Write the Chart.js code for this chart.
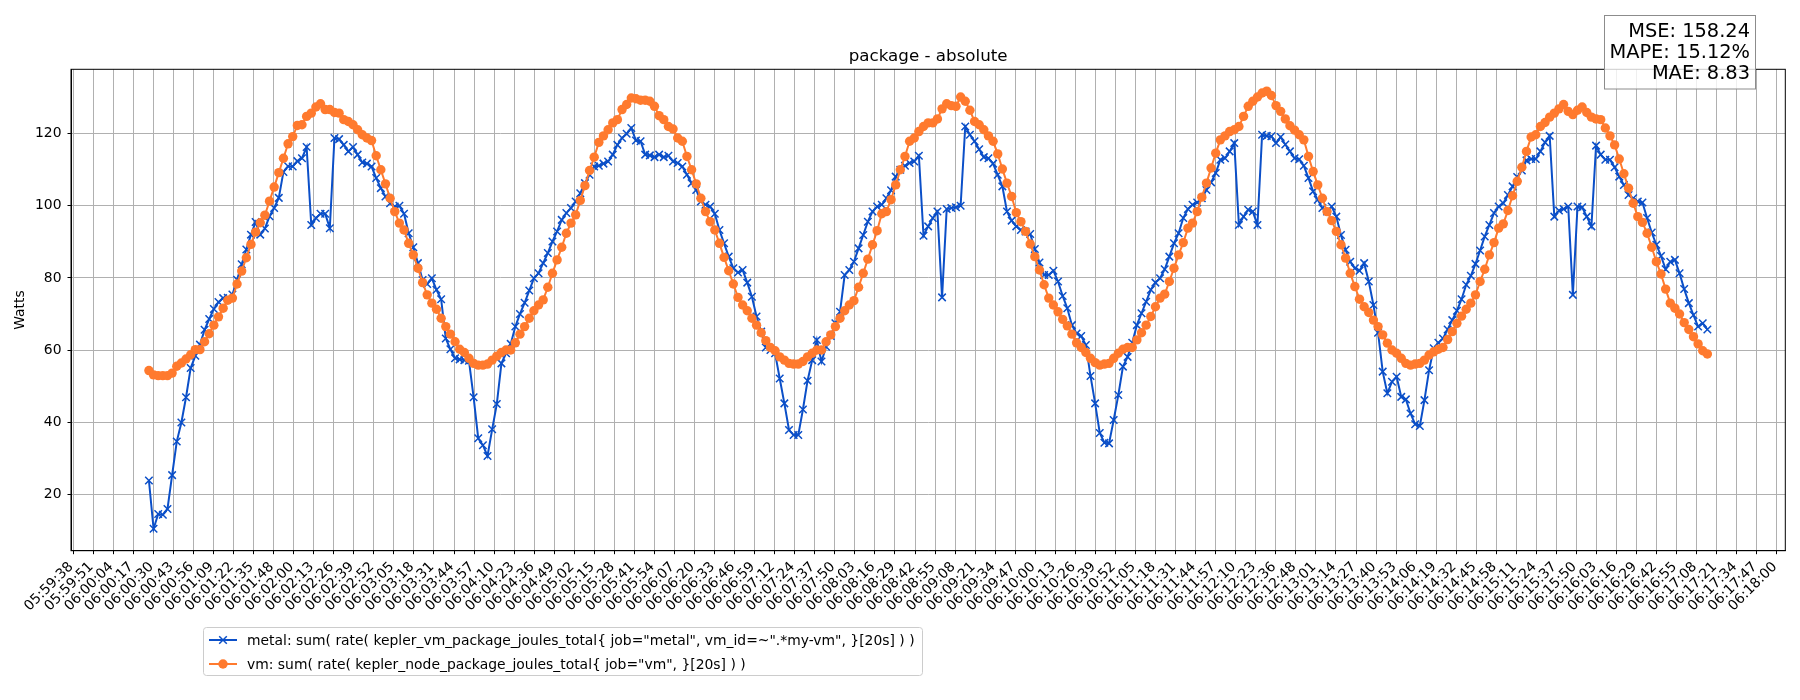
<!DOCTYPE html>
<html>
<head>
<meta charset="utf-8">
<script src="https://cdn.jsdelivr.net/npm/chart.js@4/dist/chart.umd.min.js"></script>
<style>
html, body { margin: 0; padding: 0; background: #fff; }
canvas { display: block; }
</style>
</head>
<body>
<canvas id="chart" width="1800" height="700"></canvas>
<script>
const tickLabels = [
    '05:59:38', '05:59:51', '06:00:04', '06:00:17', '06:00:30', '06:00:43', '06:00:56', '06:01:09', '06:01:22', '06:01:35',
    '06:01:48', '06:02:00', '06:02:13', '06:02:26', '06:02:39', '06:02:52', '06:03:05', '06:03:18', '06:03:31', '06:03:44',
    '06:03:57', '06:04:10', '06:04:23', '06:04:36', '06:04:49', '06:05:02', '06:05:15', '06:05:28', '06:05:41', '06:05:54',
    '06:06:07', '06:06:20', '06:06:33', '06:06:46', '06:06:59', '06:07:12', '06:07:24', '06:07:37', '06:07:50', '06:08:03',
    '06:08:16', '06:08:29', '06:08:42', '06:08:55', '06:09:08', '06:09:21', '06:09:34', '06:09:47', '06:10:00', '06:10:13',
    '06:10:26', '06:10:39', '06:10:52', '06:11:05', '06:11:18', '06:11:31', '06:11:44', '06:11:57', '06:12:10', '06:12:23',
    '06:12:36', '06:12:48', '06:13:01', '06:13:14', '06:13:27', '06:13:40', '06:13:53', '06:14:06', '06:14:19', '06:14:32',
    '06:14:45', '06:14:58', '06:15:11', '06:15:24', '06:15:37', '06:15:50', '06:16:03', '06:16:16', '06:16:29', '06:16:42',
    '06:16:55', '06:17:08', '06:17:21', '06:17:34', '06:17:47', '06:18:00'
];
const yTicks = [20, 40, 60, 80, 100, 120];

// samples: one every 3 s from the first timestamp
const sampleStart = '06:00:27';
const sampleStep = 3;

const metalValues = [
    23.8, 10.4, 14.5, 14.3, 15.9, 25.3, 34.6, 39.9, 46.9, 55.0,
    58.4, 61.5, 65.6, 68.6, 71.4, 73.3, 74.4, 74.5, 75.4, 79.5,
    83.8, 87.9, 92.0, 95.5, 92.0, 93.7, 97.1, 99.4, 102.2, 109.4,
    111.0, 110.9, 112.4, 113.2, 116.3, 94.7, 96.6, 97.8, 97.8, 93.8,
    118.8, 118.5, 116.9, 115.1, 116.3, 114.2, 112.0, 111.7, 110.9, 107.7,
    104.9, 102.6, 100.7, 99.8, 100.0, 97.8, 92.4, 88.5, 84.1, 79.4,
    78.3, 79.9, 76.7, 74.1, 63.2, 60.2, 57.7, 57.4, 57.2, 57.0,
    46.9, 35.5, 33.6, 30.6, 38.0, 45.0, 56.3, 59.1, 61.7, 66.5,
    70.0, 73.1, 76.5, 79.9, 81.3, 84.1, 86.9, 90.1, 92.9, 96.1,
    98.0, 99.4, 101.2, 103.5, 106.3, 108.6, 110.9, 111.1, 111.7, 112.3,
    114.2, 116.9, 118.8, 120.0, 121.6, 118.1, 117.9, 114.2, 114.0, 113.5,
    114.2, 113.5, 113.9, 112.3, 111.9, 110.9, 108.6, 106.3, 104.4, 101.2,
    100.3, 99.8, 97.8, 93.3, 89.6, 85.9, 82.7, 81.5, 82.2, 78.7,
    74.8, 69.3, 65.1, 60.7, 60.0, 59.1, 52.1, 45.2, 37.8, 36.4,
    36.4, 43.5, 51.5, 57.2, 62.8, 56.8, 60.9, 63.9, 67.4, 70.6,
    80.8, 82.2, 84.5, 88.2, 91.9, 95.6, 98.4, 99.8, 100.3, 102.1,
    104.3, 108.1, 110.0, 111.1, 111.9, 112.3, 113.9, 91.7, 94.3, 96.6,
    98.4, 74.6, 99.1, 99.4, 99.6, 100.0, 122.0, 119.7, 117.9, 115.7,
    113.5, 113.2, 111.7, 108.6, 105.4, 98.4, 95.9, 94.3, 93.3, 92.9,
    92.2, 88.0, 84.3, 80.8, 80.8, 82.0, 79.0, 75.0, 71.6, 66.9,
    64.6, 63.9, 61.4, 52.8, 45.2, 37.0, 34.3, 34.1, 40.6, 47.5,
    55.4, 58.1, 62.0, 66.9, 70.2, 73.4, 76.7, 78.7, 79.9, 82.4,
    85.9, 89.6, 92.4, 96.6, 99.1, 100.3, 100.9, 102.1, 104.4, 106.5,
    109.1, 112.8, 113.2, 115.1, 117.4, 94.7, 97.0, 98.9, 98.4, 94.7,
    119.7, 119.4, 119.3, 117.4, 119.1, 117.0, 115.1, 113.2, 112.9, 111.1,
    107.7, 104.0, 101.7, 99.4, 98.4, 99.8, 97.0, 91.9, 87.8, 84.5,
    82.7, 82.0, 84.1, 79.0, 72.5, 64.8, 54.0, 48.0, 51.2, 52.6,
    47.0, 46.3, 42.4, 39.4, 38.9, 46.1, 54.4, 60.5, 62.0, 63.2,
    65.7, 68.3, 70.9, 74.1, 78.1, 80.6, 83.9, 87.6, 91.5, 94.7,
    98.0, 99.8, 100.7, 103.0, 105.4, 108.0, 109.8, 112.6, 113.0, 113.0,
    115.1, 117.6, 119.4, 97.0, 98.7, 99.1, 99.8, 75.3, 99.8, 99.6,
    97.0, 94.3, 116.7, 114.2, 112.8, 112.8, 110.7, 108.1, 105.8, 103.0,
    102.1, 101.2, 100.9, 96.6, 92.6, 89.2, 86.1, 82.4, 84.5, 85.0,
    81.3, 76.9, 73.0, 69.7, 66.5, 67.4, 65.7
];

const vmValues = [
    54.3, 53.1, 52.9, 52.9, 52.9, 53.6, 55.5, 56.4, 57.5, 58.7,
    60.1, 60.1, 62.3, 64.5, 66.9, 69.2, 71.6, 73.8, 74.4, 78.3,
    81.9, 85.6, 89.3, 92.7, 95.3, 97.4, 101.3, 105.2, 109.2, 113.2,
    117.2, 119.2, 122.3, 122.5, 124.8, 125.7, 127.4, 128.3, 126.7, 126.7,
    125.9, 125.7, 123.9, 123.4, 122.5, 121.1, 119.7, 118.8, 118.1, 113.9,
    110.0, 106.1, 102.1, 98.4, 95.2, 93.3, 89.6, 86.4, 82.7, 78.7,
    75.3, 73.0, 71.3, 68.8, 66.5, 64.4, 62.3, 60.2, 59.3, 57.7,
    56.3, 55.8, 55.8, 56.1, 57.2, 58.3, 59.3, 60.0, 60.0, 62.0,
    64.4, 66.5, 68.8, 70.9, 72.5, 73.9, 77.4, 81.3, 85.0, 88.5,
    92.4, 95.2, 97.5, 101.5, 105.6, 109.8, 113.5, 117.6, 119.4, 121.1,
    123.0, 123.9, 126.7, 128.1, 129.9, 129.7, 129.3, 129.3, 129.0, 127.6,
    125.0, 123.9, 122.0, 121.3, 118.8, 117.9, 113.7, 110.0, 106.1, 102.1,
    98.4, 95.6, 93.3, 89.6, 85.7, 82.0, 78.3, 74.6, 72.5, 70.9,
    68.8, 66.9, 64.8, 62.6, 60.7, 59.8, 58.1, 57.2, 56.3, 56.1,
    56.1, 56.8, 58.1, 59.1, 60.0, 60.0, 62.3, 64.2, 66.5, 68.8,
    70.9, 72.5, 73.7, 77.4, 81.3, 85.2, 89.2, 93.1, 97.8, 98.4,
    101.7, 105.8, 110.0, 113.7, 117.9, 118.8, 120.6, 122.0, 123.0, 123.0,
    124.1, 126.9, 128.3, 127.8, 127.6, 130.2, 129.0, 126.5, 123.4, 122.5,
    121.1, 119.4, 117.9, 114.4, 110.2, 106.3, 102.6, 98.1, 95.6, 92.9,
    89.4, 85.9, 82.2, 78.1, 74.4, 72.5, 70.6, 68.5, 66.7, 64.4,
    62.0, 60.7, 59.3, 57.7, 56.5, 55.8, 56.1, 56.3, 57.7, 59.1,
    60.2, 60.7, 60.7, 62.8, 64.8, 66.9, 69.3, 72.0, 74.4, 75.5,
    79.0, 82.7, 86.4, 89.8, 93.8, 95.2, 98.4, 102.4, 106.3, 110.5,
    114.6, 118.3, 119.4, 120.6, 121.1, 122.0, 124.8, 127.6, 129.0, 130.2,
    131.3, 131.8, 130.6, 127.8, 126.2, 124.1, 122.2, 121.0, 119.7, 118.3,
    113.7, 109.5, 105.8, 102.1, 98.4, 95.9, 92.9, 89.2, 85.5, 81.3,
    77.6, 74.1, 72.0, 70.4, 68.3, 66.5, 64.2, 61.9, 60.0, 59.1,
    57.7, 56.3, 55.8, 56.1, 56.3, 57.2, 58.6, 59.5, 60.2, 60.7,
    62.9, 65.1, 67.4, 69.4, 71.3, 73.0, 75.3, 79.0, 82.4, 86.4,
    89.8, 93.8, 95.0, 98.7, 102.8, 106.8, 110.7, 115.1, 119.1, 119.7,
    122.0, 123.1, 124.6, 125.7, 126.9, 128.1, 126.2, 125.3, 126.5, 127.4,
    125.9, 124.6, 124.1, 123.9, 121.6, 119.4, 116.9, 113.0, 108.9, 104.9,
    100.7, 97.0, 95.4, 92.4, 88.5, 84.5, 81.1, 76.9, 73.0, 71.6,
    70.0, 67.6, 65.7, 63.7, 61.7, 59.8, 58.9
];

const metalLabel = 'metal: sum( rate( kepler_vm_package_joules_total{ job="metal", vm_id=~".*my-vm", }[20s] ) )';
const vmLabel = 'vm: sum( rate( kepler_node_package_joules_total{ job="vm", }[20s] ) )';
const chartTitle = 'package - absolute';
const yTitle = 'Watts';
const metrics = ['MSE: 158.24', 'MAPE: 15.12%', 'MAE: 8.83'];

const BLUE = '#0b4fc8';
const ORANGE = '#ff7a2e';
const FONT = '"DejaVu Sans", sans-serif';

function toSec(s) {
    const p = s.split(':').map(Number);
    return p[0] * 3600 + p[1] * 60 + p[2];
}

// x in seconds after the first tick label
const t0 = toSec(tickLabels[0]);
const tEnd = toSec(tickLabels[tickLabels.length - 1]);
const tickValues = tickLabels.map((_, k) => k * (tEnd - t0) / (tickLabels.length - 1));
const firstX = toSec(sampleStart) - t0;

const metalPoints = metalValues.map((v, i) => ({ x: firstX + i * sampleStep, y: v }));
const vmPoints = vmValues.map((v, i) => ({ x: firstX + i * sampleStep, y: v }));

// matplotlib style 5% margins
const lastX = firstX + (metalValues.length - 1) * sampleStep;
const xPad = 0.05 * (lastX - firstX);
const allY = metalValues.concat(vmValues);
const yLo = Math.min(...allY), yHi = Math.max(...allY);
const yPad = 0.05 * (yHi - yLo);

const decorations = {
    id: 'decorations',
    afterDraw(chart) {
        const ctx = chart.ctx;
        const a = chart.chartArea;
        ctx.save();

        ctx.strokeStyle = '#000';
        ctx.lineWidth = 1;
        ctx.strokeRect(a.left, a.top, a.right - a.left, a.bottom - a.top);

        ctx.fillStyle = '#000';
        ctx.font = '16.7px ' + FONT;
        ctx.textAlign = 'center';
        ctx.textBaseline = 'alphabetic';
        ctx.fillText(chartTitle, (a.left + a.right) / 2, a.top - 8.3);

        ctx.save();
        ctx.translate(20.5, (a.top + a.bottom) / 2);
        ctx.rotate(-Math.PI / 2);
        ctx.font = '13.9px ' + FONT;
        ctx.textBaseline = 'middle';
        ctx.fillText(yTitle, 0, 0);
        ctx.restore();

        // metrics box
        ctx.fillStyle = 'rgba(255,255,255,0.8)';
        ctx.fillRect(1604, 15, 152, 74);
        ctx.strokeStyle = '#8c8c8c';
        ctx.strokeRect(1604.5, 15.5, 151, 73.5);
        ctx.fillStyle = '#000';
        ctx.font = '19.4px ' + FONT;
        ctx.textAlign = 'right';
        ctx.textBaseline = 'alphabetic';
        metrics.forEach((m, i) => ctx.fillText(m, 1750, 36.5 + i * 21.2));

        // legend
        const lx = 203, ly = 627, lw = 719, lh = 48;
        ctx.fillStyle = 'rgba(255,255,255,0.8)';
        ctx.strokeStyle = '#cccccc';
        ctx.beginPath();
        ctx.roundRect(lx + 0.5, ly + 0.5, lw, lh, 3);
        ctx.fill();
        ctx.stroke();
        ctx.font = '13.9px ' + FONT;
        ctx.textAlign = 'left';
        ctx.textBaseline = 'middle';
        chart.data.datasets.forEach((ds, i) => {
            const y = ly + 13 + i * 24;
            ctx.strokeStyle = ds.borderColor;
            ctx.lineWidth = 2;
            ctx.beginPath();
            ctx.moveTo(209, y);
            ctx.lineTo(237, y);
            ctx.stroke();
            if (ds.pointStyle === 'crossRot') {
                ctx.lineWidth = 1.5;
                ctx.beginPath();
                ctx.moveTo(223 - 3.8, y - 3.8); ctx.lineTo(223 + 3.8, y + 3.8);
                ctx.moveTo(223 - 3.8, y + 3.8); ctx.lineTo(223 + 3.8, y - 3.8);
                ctx.stroke();
            } else {
                ctx.fillStyle = ds.backgroundColor;
                ctx.beginPath();
                ctx.arc(223, y, 4.7, 0, Math.PI * 2);
                ctx.fill();
            }
            ctx.fillStyle = '#000';
            ctx.fillText(ds.label, 247, y + 1);
        });

        ctx.restore();
    }
};

Chart.defaults.font.family = FONT;

new Chart(document.getElementById('chart'), {
    type: 'line',
    data: {
        datasets: [{
            label: metalLabel,
            data: metalPoints,
            borderColor: BLUE,
            backgroundColor: BLUE,
            borderWidth: 2,
            pointStyle: 'crossRot',
            pointRadius: 5.3,
            pointBorderWidth: 1.5,
            order: 1
        }, {
            label: vmLabel,
            data: vmPoints,
            borderColor: ORANGE,
            backgroundColor: ORANGE,
            borderWidth: 2,
            pointStyle: 'circle',
            pointRadius: 4.7,
            pointBorderWidth: 0,
            order: 0
        }]
    },
    options: {
        responsive: false,
        animation: false,
        devicePixelRatio: 1,
        layout: {
            padding: { left: 0, right: 14.7, top: 69.3, bottom: 0 }
        },
        plugins: {
            legend: { display: false },
            title: { display: false },
            tooltip: { enabled: false }
        },
        scales: {
            x: {
                type: 'linear',
                min: firstX - xPad,
                max: lastX + xPad,
                afterBuildTicks: scale => {
                    scale.ticks = tickValues.map(v => ({ value: v }));
                },
                afterFit: scale => {
                    scale.height = 149.3;
                },
                ticks: {
                    autoSkip: false,
                    minRotation: 45,
                    maxRotation: 45,
                    padding: 4.5,
                    labelOffset: -2,
                    color: '#000',
                    font: { size: 13.9 },
                    callback: (value, index) => tickLabels[index]
                },
                grid: {
                    color: '#b0b0b0',
                    lineWidth: 1,
                    tickColor: '#000',
                    tickLength: 3.5,
                    tickWidth: 1
                },
                border: { color: '#000', width: 1 }
            },
            y: {
                min: yLo - yPad,
                max: yHi + yPad,
                afterBuildTicks: scale => {
                    scale.ticks = yTicks.map(v => ({ value: v }));
                },
                afterFit: scale => {
                    scale.width = 71;
                },
                ticks: {
                    padding: 6,
                    color: '#000',
                    font: { size: 13.9 }
                },
                grid: {
                    color: '#b0b0b0',
                    lineWidth: 1,
                    tickColor: '#000',
                    tickLength: 3.5,
                    tickWidth: 1
                },
                border: { color: '#000', width: 1 }
            }
        }
    },
    plugins: [decorations]
});
</script>
</body>
</html>
